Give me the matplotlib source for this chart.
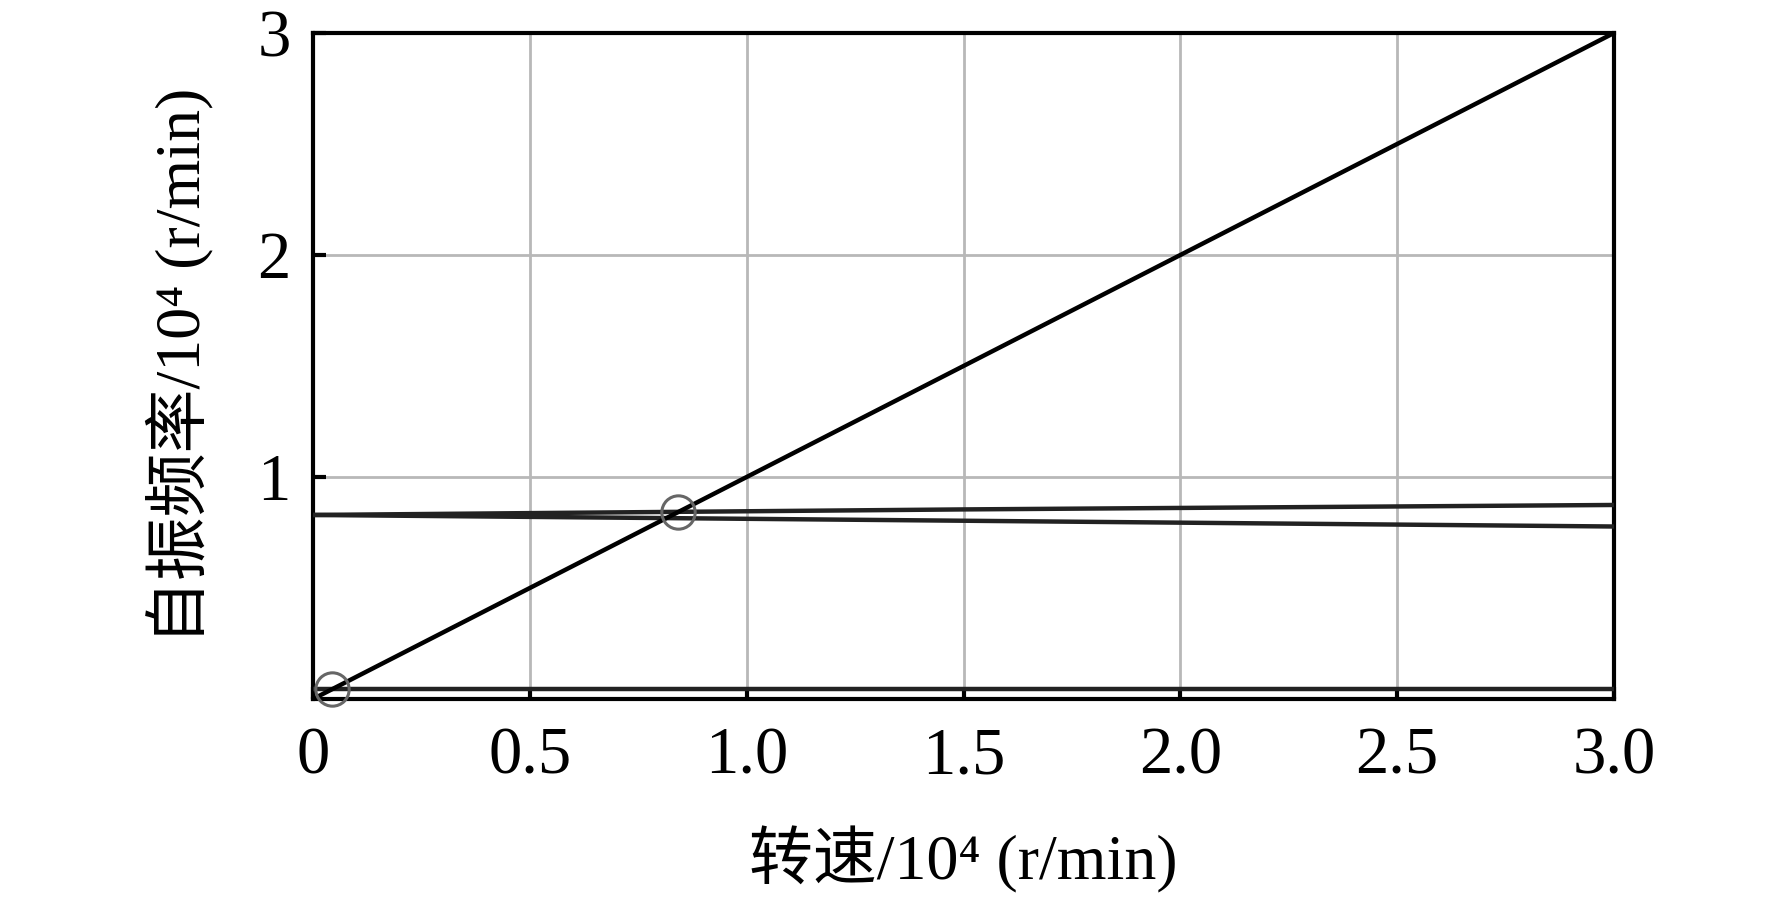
import matplotlib
matplotlib.use('Agg')
import matplotlib.pyplot as plt

plt.rcParams['font.family'] = ['Liberation Serif', 'Noto Sans CJK SC']

# rotational speed (10^4 r/min)
speed = [0.0, 1.5, 3.0]
# natural frequencies (10^4 r/min)
mode_low = [0.045, 0.045, 0.045]
mode_fw = [0.829, 0.854, 0.874]
mode_bw = [0.829, 0.803, 0.777]
# 1x excitation line
excite_x = [0.0, 3.0]
excite_y = [0.0, 3.0]
# critical speed points
crit_x = [0.044, 0.841]
crit_y = [0.045, 0.842]

xticks = [0, 0.5, 1.0, 1.5, 2.0, 2.5, 3.0]
xtick_labels = ['0', '0.5', '1.0', '1.5', '2.0', '2.5', '3.0']
yticks = [1, 2, 3]
ytick_labels = ['1', '2', '3']

fig = plt.figure(figsize=(17.72, 9.02), dpi=100)
ax = fig.add_axes([313 / 1772, 1 - 699 / 902, (1614 - 313) / 1772, (699 - 33) / 902])

ax.plot(speed, mode_low, color='#222222', lw=3.2, zorder=3)
ax.plot(speed, mode_fw, color='#222222', lw=3.2, zorder=3)
ax.plot(speed, mode_bw, color='#222222', lw=3.2, zorder=3)
ax.plot(excite_x, excite_y, color='black', lw=3.2, zorder=4)
ax.plot(crit_x, crit_y, ls='none', marker='o', ms=24, mfc='none',
        mec='#666666', mew=2.2, zorder=5, clip_on=False)

ax.set_xlim(0, 3)
ax.set_ylim(0, 3)
ax.set_xticks(xticks)
ax.set_xticklabels(xtick_labels)
ax.set_yticks(yticks)
ax.set_yticklabels(ytick_labels)
ax.grid(True, color='#b8b8b8', lw=2.0, zorder=0)
ax.set_axisbelow(True)
ax.tick_params(direction='in', length=9, width=3, labelsize=48)
ax.tick_params(axis='x', pad=20)
ax.tick_params(axis='y', pad=16)
for sp in ax.spines.values():
    sp.set_linewidth(3.0)

ax.set_xlabel('转速/10⁴ (r/min)', fontsize=46, labelpad=28)
ax.set_ylabel('自振频率/10⁴ (r/min)', fontsize=46, labelpad=32)

fig.savefig('out.png', dpi=100, facecolor='white')
